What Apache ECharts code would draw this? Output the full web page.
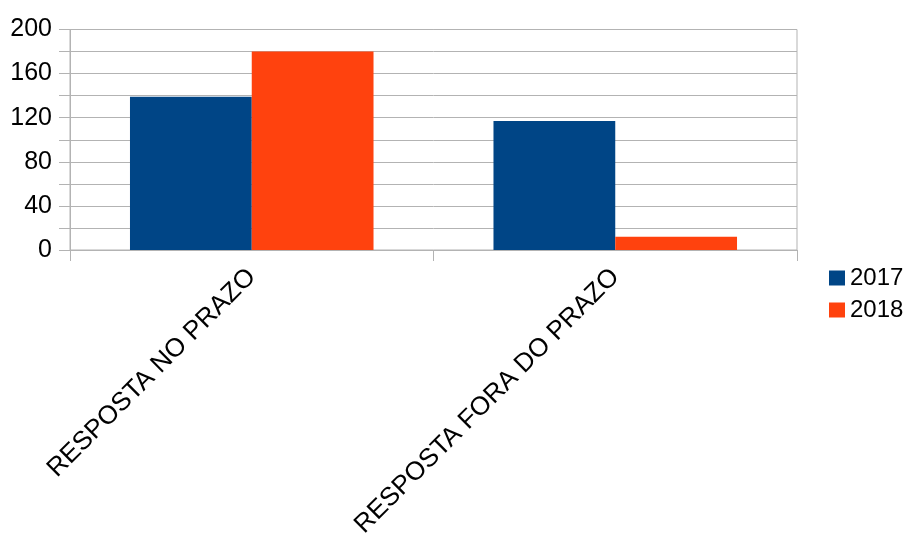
<!DOCTYPE html>
<html>
<head>
<meta charset="utf-8">
<title>Respostas no prazo</title>
<script src="https://cdn.jsdelivr.net/npm/echarts@6/dist/echarts.min.js"></script>
<style>
  html, body { margin: 0; padding: 0; background: #ffffff; }
  #chart { width: 906px; height: 535px; }
</style>
</head>
<body>
<div id="chart"></div>
<script>
// Categories and values per year
const categories = ['RESPOSTA NO PRAZO', 'RESPOSTA FORA DO PRAZO'];
const values2017 = [139, 117];
const values2018 = [180, 12];
const seriesNames = ['2017', '2018'];

const FONT = '"Liberation Sans", Arial, sans-serif';
const GRID_COLOR = '#b3b3b3';

const chart = echarts.init(document.getElementById('chart'), null, { renderer: 'canvas' });

chart.setOption({
  animation: false,
  backgroundColor: '#ffffff',
  textStyle: { fontFamily: FONT },
  grid: {
    left: 70,
    right: 109,
    top: 29.5,
    bottom: 285,
    show: true,
    borderColor: GRID_COLOR,
    borderWidth: 1,
    backgroundColor: 'transparent',
    containLabel: false,
    outerBoundsMode: 'none'
  },
  legend: {
    orient: 'vertical',
    left: 824,
    top: 261,
    itemWidth: 16,
    itemHeight: 15,
    itemGap: 8,
    icon: 'rect',
    data: seriesNames,
    textStyle: { fontFamily: FONT, fontSize: 24, color: '#000000', lineHeight: 24 }
  },
  xAxis: {
    type: 'category',
    data: categories,
    axisLine: { show: true, lineStyle: { color: GRID_COLOR, width: 1 } },
    axisTick: { show: true, length: 11, lineStyle: { color: GRID_COLOR } },
    axisLabel: {
      interval: 0,
      rotate: 45,
      margin: 23,
      fontFamily: FONT,
      fontSize: 26,
      color: '#000000'
    },
    splitLine: { show: false }
  },
  yAxis: {
    type: 'value',
    min: 0,
    max: 200,
    interval: 20,
    axisLine: { show: true, lineStyle: { color: GRID_COLOR, width: 1 } },
    axisTick: { show: true, length: 11, lineStyle: { color: GRID_COLOR } },
    axisLabel: {
      margin: 18,
      fontFamily: FONT,
      fontSize: 25,
      color: '#000000',
      formatter: function (v) { return v % 40 === 0 ? String(v) : ''; }
    },
    splitLine: { show: true, lineStyle: { color: GRID_COLOR, width: 1 } }
  },
  series: [
    {
      name: seriesNames[0],
      type: 'bar',
      data: values2017,
      barGap: '0%',
      barCategoryGap: '33%',
      itemStyle: { color: '#004586' }
    },
    {
      name: seriesNames[1],
      type: 'bar',
      data: values2018,
      barGap: '0%',
      barCategoryGap: '33%',
      itemStyle: { color: '#ff420e' }
    }
  ]
});
</script>
</body>
</html>
